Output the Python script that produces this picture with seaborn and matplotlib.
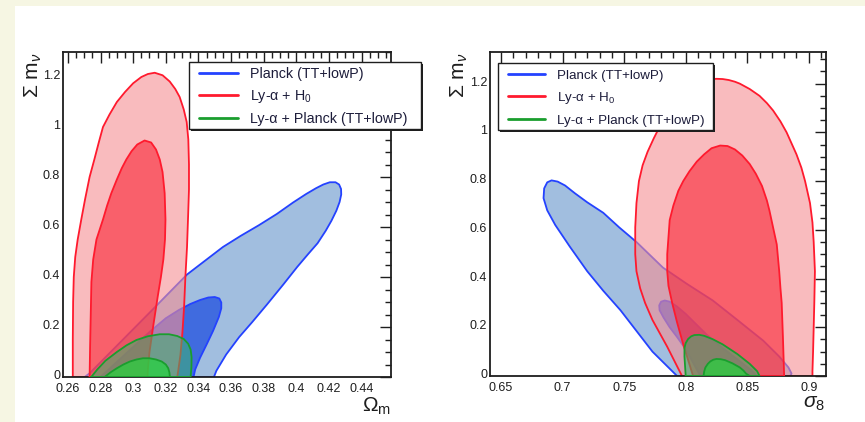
import matplotlib
matplotlib.use("Agg")
import matplotlib.pyplot as plt
import matplotlib.transforms as mtransforms
import seaborn as sns
from matplotlib.patches import Rectangle
from matplotlib.ticker import FixedLocator, FixedFormatter, MultipleLocator

# ---------------------------------------------------------------------------
# Data: 68% / 95% confidence contours (boundary vertices)
# ---------------------------------------------------------------------------
LABELS = ["Planck (TT+lowP)", "Ly-α + H$_0$", "Ly-α + Planck (TT+lowP)"]

# --- Omega_m vs sum m_nu -----------------------------------------------------
om_planck95_x = [0.2703, 0.2735, 0.290, 0.310, 0.333, 0.345, 0.355, 0.366, 0.377, 0.388,
                 0.398, 0.406, 0.412, 0.4165, 0.4205, 0.4240, 0.4262, 0.4274, 0.4275, 0.4265,
                 0.4245, 0.4215, 0.418, 0.413, 0.407, 0.4005, 0.392, 0.382, 0.373, 0.365,
                 0.357, 0.351, 0.3495]
om_planck95_y = [0.0, 0.016, 0.125, 0.257, 0.41, 0.47, 0.52, 0.565, 0.607, 0.652,
                 0.698, 0.732, 0.755, 0.770, 0.779, 0.779, 0.770, 0.752, 0.730, 0.700,
                 0.665, 0.625, 0.585, 0.535, 0.49, 0.44, 0.37, 0.29, 0.22, 0.16,
                 0.09, 0.025, 0.0]
om_planck68_x = [0.280, 0.290, 0.300, 0.310, 0.320, 0.328, 0.335, 0.341, 0.346, 0.3500,
                 0.3528, 0.3540, 0.3540, 0.3525, 0.349, 0.345, 0.341, 0.338, 0.337]
om_planck68_y = [0.0, 0.06, 0.12, 0.18, 0.235, 0.268, 0.292, 0.308, 0.318, 0.320,
                 0.314, 0.298, 0.275, 0.24, 0.185, 0.13, 0.077, 0.03, 0.0]

om_lya95_x = [0.2630, 0.2630, 0.2632, 0.2636, 0.2645, 0.2660, 0.2682, 0.2705, 0.2733, 0.2762,
              0.2790, 0.2815, 0.2855, 0.2900, 0.2950, 0.3000, 0.3050, 0.3090, 0.3132, 0.3180,
              0.3224, 0.3258, 0.3285, 0.3310, 0.3328, 0.3338, 0.3342, 0.3342, 0.3337, 0.3330,
              0.3320, 0.3312, 0.3302, 0.3290, 0.3275, 0.3270]
om_lya95_y = [0.0, 0.15, 0.30, 0.40, 0.48, 0.55, 0.63, 0.71, 0.80, 0.87,
              0.94, 1.00, 1.05, 1.10, 1.14, 1.175, 1.200, 1.212, 1.217, 1.207,
              1.182, 1.152, 1.12, 1.07, 1.02, 0.95, 0.85, 0.75, 0.65, 0.52,
              0.40, 0.28, 0.18, 0.09, 0.02, 0.0]
om_lya68_x = [0.2733, 0.2736, 0.2740, 0.2744, 0.2755, 0.2775, 0.2815, 0.2840, 0.2866, 0.2900,
              0.2930, 0.2958, 0.2990, 0.3025, 0.3070, 0.3110, 0.3140, 0.3163, 0.3180, 0.3193,
              0.3198, 0.3195, 0.3185, 0.3170, 0.3150, 0.3122, 0.3100, 0.3090, 0.3088]
om_lya68_y = [0.0, 0.12, 0.25, 0.38, 0.47, 0.55, 0.63, 0.685, 0.735, 0.79,
              0.835, 0.87, 0.903, 0.93, 0.946, 0.938, 0.91, 0.87, 0.82, 0.735,
              0.63, 0.55, 0.47, 0.40, 0.32, 0.20, 0.10, 0.03, 0.0]

om_comb95_x = [0.2743, 0.2780, 0.2830, 0.2900, 0.2960, 0.3020, 0.3090, 0.3163, 0.3220, 0.3270,
               0.3310, 0.3337, 0.3352, 0.3358, 0.3357, 0.3352]
om_comb95_y = [0.0, 0.03, 0.065, 0.10, 0.127, 0.148, 0.163, 0.171, 0.171, 0.164,
               0.152, 0.133, 0.11, 0.08, 0.04, 0.0]
om_comb68_x = [0.2825, 0.2860, 0.2900, 0.2940, 0.2980, 0.3020, 0.3060, 0.3100, 0.3140, 0.3175,
               0.3200, 0.3215, 0.3222, 0.3225]
om_comb68_y = [0.0, 0.018, 0.035, 0.050, 0.062, 0.070, 0.075, 0.075, 0.070, 0.062,
               0.050, 0.035, 0.018, 0.0]

# --- sigma_8 vs sum m_nu -----------------------------------------------------
s8_planck95_x = [0.793, 0.783, 0.773, 0.760, 0.747, 0.733, 0.720, 0.706, 0.694, 0.6875,
                 0.6845, 0.6850, 0.6875, 0.6910, 0.6960, 0.7020, 0.7100, 0.7200, 0.733, 0.746,
                 0.760, 0.7815, 0.801, 0.822, 0.842, 0.863, 0.876, 0.8835, 0.886, 0.885]
s8_planck95_y = [0.0, 0.05, 0.10, 0.185, 0.27, 0.35, 0.43, 0.53, 0.62, 0.68,
                 0.73, 0.77, 0.795, 0.803, 0.798, 0.782, 0.750, 0.713, 0.67, 0.61,
                 0.55, 0.445, 0.378, 0.31, 0.23, 0.145, 0.08, 0.035, 0.01, 0.0]
s8_planck68_x = [0.812, 0.806, 0.800, 0.793, 0.787, 0.782, 0.7788, 0.7785, 0.7800, 0.7830,
                 0.7870, 0.7930, 0.800, 0.808, 0.817, 0.830, 0.844, 0.853, 0.858]
s8_planck68_y = [0.0, 0.055, 0.11, 0.16, 0.20, 0.24, 0.27, 0.29, 0.305, 0.310,
                 0.305, 0.285, 0.255, 0.215, 0.17, 0.115, 0.06, 0.025, 0.0]

s8_lya95_x = [0.797, 0.791, 0.785, 0.779, 0.773, 0.767, 0.763, 0.760, 0.759, 0.759,
              0.760, 0.762, 0.765, 0.769, 0.774, 0.779, 0.785, 0.791, 0.797, 0.803,
              0.809, 0.815, 0.820, 0.825, 0.830, 0.835, 0.840, 0.844, 0.852, 0.860,
              0.866, 0.871, 0.877, 0.882, 0.886, 0.890, 0.894, 0.897, 0.901, 0.903,
              0.904, 0.905, 0.9045, 0.904, 0.9035, 0.903, 0.903]
s8_lya95_y = [0.0, 0.06, 0.12, 0.175, 0.23, 0.30, 0.36, 0.43, 0.50, 0.61,
              0.71, 0.80, 0.865, 0.92, 0.975, 1.025, 1.07, 1.115, 1.15, 1.178,
              1.198, 1.21, 1.218, 1.22, 1.219, 1.215, 1.208, 1.20, 1.178, 1.15,
              1.12, 1.09, 1.045, 1.00, 0.955, 0.91, 0.855, 0.80, 0.71, 0.63,
              0.55, 0.43, 0.30, 0.20, 0.10, 0.02, 0.0]
s8_lya68_x = [0.806, 0.802, 0.798, 0.793, 0.789, 0.786, 0.785, 0.785, 0.786, 0.787,
              0.790, 0.794, 0.798, 0.803, 0.809, 0.815, 0.821, 0.828, 0.834, 0.840,
              0.846, 0.852, 0.857, 0.862, 0.866, 0.868, 0.871, 0.874, 0.876, 0.877,
              0.878, 0.879, 0.8795, 0.880]
s8_lya68_y = [0.0, 0.065, 0.13, 0.22, 0.30, 0.37, 0.43, 0.50, 0.57, 0.64,
              0.70, 0.76, 0.80, 0.84, 0.88, 0.91, 0.935, 0.946, 0.944, 0.93,
              0.905, 0.87, 0.83, 0.78, 0.72, 0.68, 0.61, 0.54, 0.43, 0.36,
              0.30, 0.16, 0.08, 0.0]

s8_comb95_x = [0.800, 0.7995, 0.799, 0.799, 0.800, 0.802, 0.8045, 0.807, 0.811, 0.815,
               0.822, 0.830, 0.836, 0.842, 0.847, 0.852, 0.856, 0.858, 0.860]
s8_comb95_y = [0.0, 0.04, 0.08, 0.115, 0.135, 0.152, 0.163, 0.168, 0.169, 0.165,
               0.151, 0.13, 0.11, 0.09, 0.07, 0.05, 0.03, 0.02, 0.0]
s8_comb68_x = [0.8145, 0.8150, 0.8160, 0.8180, 0.8200, 0.8225, 0.8250, 0.8285, 0.8320, 0.8380,
               0.8440, 0.8470, 0.8490, 0.8520]
s8_comb68_y = [0.0, 0.018, 0.035, 0.050, 0.060, 0.067, 0.070, 0.069, 0.065, 0.052,
               0.035, 0.022, 0.010, 0.0]

# Tick positions and labels
om_ticks = [0.26, 0.28, 0.30, 0.32, 0.34, 0.36, 0.38, 0.40, 0.42, 0.44]
om_ticklabels = ["0.26", "0.28", "0.3", "0.32", "0.34", "0.36", "0.38", "0.4", "0.42", "0.44"]
s8_ticks = [0.65, 0.70, 0.75, 0.80, 0.85, 0.90]
s8_ticklabels = ["0.65", "0.7", "0.75", "0.8", "0.85", "0.9"]
mnu_ticks = [0.0, 0.2, 0.4, 0.6, 0.8, 1.0, 1.2]
mnu_ticklabels = ["0", "0.2", "0.4", "0.6", "0.8", "1", "1.2"]

# ---------------------------------------------------------------------------
# Styling
# ---------------------------------------------------------------------------
sns.set_theme(style="white")
plt.rcParams["font.family"] = ["Liberation Sans", "DejaVu Sans"]
plt.rcParams["mathtext.fontset"] = "custom"
plt.rcParams["mathtext.rm"] = "Liberation Sans"
plt.rcParams["mathtext.it"] = "Liberation Sans:italic"
plt.rcParams["mathtext.bf"] = "Liberation Sans:bold"

INK = "#1e1e1e"
W, H = 865, 422
# (fill 95%, fill 68%, edge, alpha95, alpha68) per data set
STYLES = [
    ("#6293cb", "#0034e0", "#2442ff", 0.60, 0.60),
    ("#f58e93", "#f92334", "#ff1a2e", 0.60, 0.60),
    ("#3cb46e", "#22d63c", "#1a9e2e", 0.55, 0.70),
]


def draw_contour(ax, xs, ys, face, edge, alpha, z, label=None):
    ax.fill(xs, ys, facecolor=face, alpha=alpha, edgecolor="none", zorder=z)
    xc = list(xs) + [xs[0]]
    yc = list(ys) + [ys[0]]
    sns.lineplot(x=xc, y=yc, sort=False, estimator=None, color=edge, lw=1.3,
                 zorder=z + 0.05, ax=ax, label=label, legend=False)


def style_axes(ax, fig, xlim, ylim, xt, xtl, xminor):
    ax.set_xlim(*xlim)
    ax.set_ylim(*ylim)
    ax.xaxis.set_major_locator(FixedLocator(xt))
    ax.xaxis.set_major_formatter(FixedFormatter(xtl))
    ax.xaxis.set_minor_locator(MultipleLocator(xminor))
    ax.yaxis.set_major_locator(FixedLocator(mnu_ticks))
    ax.yaxis.set_major_formatter(FixedFormatter(mnu_ticklabels))
    ax.yaxis.set_minor_locator(MultipleLocator(0.05))
    ax.tick_params(which="both", direction="in", top=True, right=True,
                   color=INK, width=1.0, labelcolor=INK)
    ax.tick_params(which="major", length=8, labelsize=9)
    ax.tick_params(axis="x", which="major", pad=4)
    ax.tick_params(axis="y", which="major", pad=2)
    ax.tick_params(which="minor", length=4)
    # value labels on the vertical axis sit slightly above their ticks
    lift = mtransforms.ScaledTranslation(0, 2.5 / 100, fig.dpi_scale_trans)
    for lab in ax.get_yticklabels():
        lab.set_transform(lab.get_transform() + lift)
    ax.set_xlabel("")
    ax.set_ylabel("")
    for s in ax.spines.values():
        s.set_color(INK)
        s.set_linewidth(1.3)
    ax.set_facecolor("white")


def fig_box(x0, y0, x1, y1):
    """Pixel box (top-left origin) -> figure-fraction rectangle args."""
    return (x0 / W, 1 - y1 / H), (x1 - x0) / W, (y1 - y0) / H


fig = plt.figure(figsize=(W / 100, H / 100), dpi=100)
fig.patch.set_facecolor("#f6f6e3")
fig.add_artist(Rectangle((15 / W, 0), 1.0, (H - 6) / H, transform=fig.transFigure,
                         facecolor="white", edgecolor="none", zorder=-5))

ax1 = fig.add_axes([63 / W, 1 - 377 / H, 328 / W, 325 / H])
ax2 = fig.add_axes([490 / W, 1 - 376 / H, 336 / W, 324 / H])

panels = [
    (ax1, [(om_planck95_x, om_planck95_y, om_planck68_x, om_planck68_y),
           (om_lya95_x, om_lya95_y, om_lya68_x, om_lya68_y),
           (om_comb95_x, om_comb95_y, om_comb68_x, om_comb68_y)]),
    (ax2, [(s8_planck95_x, s8_planck95_y, s8_planck68_x, s8_planck68_y),
           (s8_lya95_x, s8_lya95_y, s8_lya68_x, s8_lya68_y),
           (s8_comb95_x, s8_comb95_y, s8_comb68_x, s8_comb68_y)]),
]

for ax, sets in panels:
    for i, (x95, y95, x68, y68) in enumerate(sets):
        f95, f68, edge, a95, a68 = STYLES[i]
        draw_contour(ax, x95, y95, f95, edge, a95, 1 + i, label=LABELS[i])
        draw_contour(ax, x68, y68, f68, edge, a68, 1.5 + i)

style_axes(ax1, fig, (0.257, 0.458), (0.0, 1.30), om_ticks, om_ticklabels, 0.005)
style_axes(ax2, fig, (0.641, 0.914), (0.0, 1.33), s8_ticks, s8_ticklabels, 0.01)

# Axis titles in the corners
ax1.text(1.0, -0.09, r"$\Omega_{\mathrm{m}}$", transform=ax1.transAxes,
         ha="right", va="center", fontsize=15, color=INK)
ax1.text(-0.09, 1.0, r"$\Sigma\ \mathrm{m}_{\nu}$", transform=ax1.transAxes,
         ha="center", va="top", rotation=90, fontsize=15, color=INK)
ax2.text(0.997, -0.085, r"$\sigma_{8}$", transform=ax2.transAxes,
         ha="right", va="center", fontsize=15, color=INK)
ax2.text(-0.09, 1.0, r"$\Sigma\ \mathrm{m}_{\nu}$", transform=ax2.transAxes,
         ha="center", va="top", rotation=90, fontsize=15, color=INK)

# Legends: framed box with a drop shadow, entries placed inside it
legend_specs = [
    # axes, box (px), first-entry top-left (px), fontsize, handle length, text pad, spacing
    (ax1, (189, 62, 421, 129), (199, 67.0), 10.3, 2.7, 0.9, 0.50),
    (ax2, (498, 63, 713, 130), (508, 69.5), 9.6, 2.8, 0.85, 0.62),
]
for ax, box, anchor, fs, hl, htp, ls in legend_specs:
    x0, y0, x1, y1 = box
    xy, bw, bh = fig_box(x0 + 2, y0 + 2, x1 + 2, y1 + 2)
    fig.add_artist(Rectangle(xy, bw, bh, transform=fig.transFigure,
                             facecolor=INK, edgecolor="none", zorder=20))
    xy, bw, bh = fig_box(x0, y0, x1, y1)
    fig.add_artist(Rectangle(xy, bw, bh, transform=fig.transFigure,
                             facecolor="white", edgecolor=INK, lw=1.0, zorder=21))
    leg = ax.legend(loc="upper left", bbox_to_anchor=(anchor[0] / W, 1 - anchor[1] / H),
                    bbox_transform=fig.transFigure, fontsize=fs, frameon=False,
                    handlelength=hl, handletextpad=htp, borderpad=0, labelspacing=ls,
                    borderaxespad=0)
    leg.set_zorder(22)
    leg.remove()
    fig.add_artist(leg)
    for line in leg.get_lines():
        line.set_linewidth(2.0)
    for t in leg.get_texts():
        t.set_color("#1c1c3a")

fig.savefig("out.png", dpi=100, facecolor=fig.get_facecolor())
